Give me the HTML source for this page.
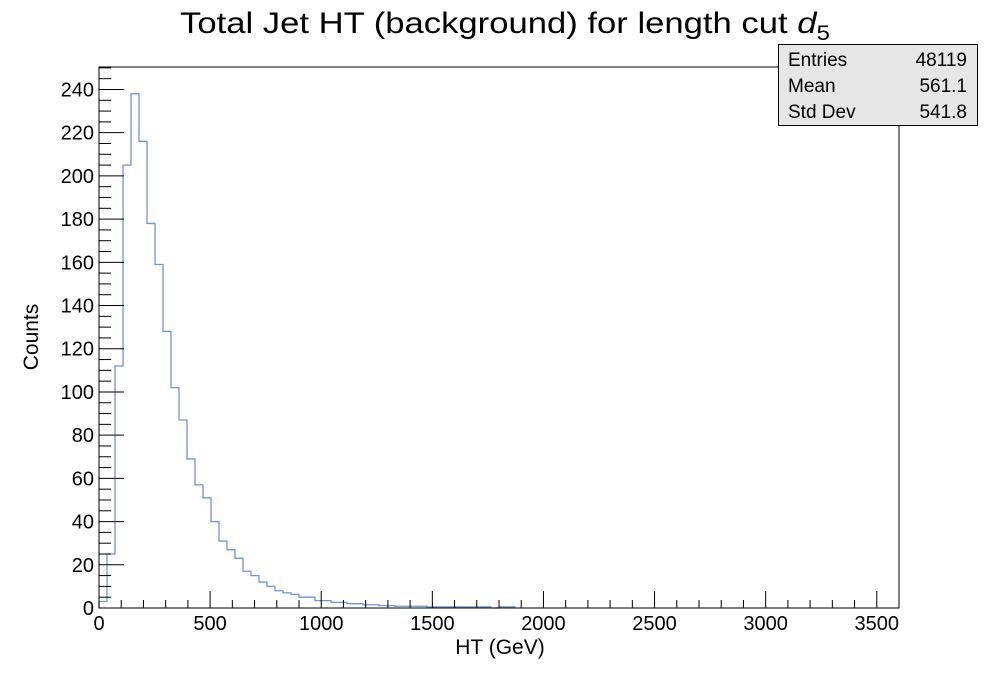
<!DOCTYPE html>
<html><head><meta charset="utf-8"><style>
html,body{margin:0;padding:0;background:#fff;}
svg{display:block;font-family:"Liberation Sans",Arial,sans-serif;}
</style></head><body>
<svg id="chart" width="998" height="676" viewBox="0 0 998 676" xmlns="http://www.w3.org/2000/svg">
<rect width="998" height="676" fill="#fff"/>
<text x="180" y="33" font-size="30" textLength="650" lengthAdjust="spacingAndGlyphs">Total Jet HT (background) for length cut <tspan font-style="italic">d</tspan><tspan font-size="21" dy="7">5</tspan></text>
<g id="plot"></g>
<rect x="99" y="67" width="800" height="541" fill="none" stroke="#000" stroke-width="1"/>
<text x="500" y="654" font-size="21" text-anchor="middle">HT (GeV)</text>
<text x="0" y="0" font-size="21" text-anchor="middle" transform="translate(38,337) rotate(-90)">Counts</text>
<g>
<rect x="778.5" y="44.5" width="199" height="81" fill="#e6e6e6" stroke="#000" stroke-width="1"/>
<text x="788" y="66" font-size="19">Entries</text>
<text x="967" y="66" font-size="19" text-anchor="end">48119</text>
<text x="788" y="92" font-size="19">Mean</text>
<text x="967" y="92" font-size="19" text-anchor="end">561.1</text>
<text x="788" y="118" font-size="19">Std Dev</text>
<text x="967" y="118" font-size="19" text-anchor="end">541.8</text>
</g>
</svg>
<script>
const binCounts = [3,25,112,205,238,216,178,159,128,102,87,69,57,51,40,31,27,23,17,15,12,10,8,7,6.3,5,5,3.4,3.4,2.6,2.6,2,2,1.5,1.5,1.1,1.1,0.8,0.8,0.8,0.8,0.5,0.5,0.5,0.5,0.5,0.5,0.5,0.5,0,0.5,0.5];
const xTickLabels = [0,500,1000,1500,2000,2500,3000,3500];
const yTickLabels = [0,20,40,60,80,100,120,140,160,180,200,220,240];
const binWidth = 36;
const xMin = 0, xMax = 3600, yMin = 0, yMax = 250.4;
const L = 99, R = 899, T = 67, B = 608;
function xs(v){return L + (v - xMin) / (xMax - xMin) * (R - L);}
function ys(v){return B - (v - yMin) / (yMax - yMin) * (B - T);}
const NS = "http://www.w3.org/2000/svg";
const plot = document.getElementById('plot');
function mk(tag, attrs){const e=document.createElementNS(NS,tag);for(const k in attrs)e.setAttribute(k,attrs[k]);return e;}
let d = "M" + xs(0) + "," + ys(0);
binCounts.forEach((c,i)=>{
  d += " L" + xs(i*binWidth) + "," + ys(c).toFixed(2) + " L" + xs((i+1)*binWidth) + "," + ys(c).toFixed(2);
});
d += " L" + xs(binCounts.length*binWidth) + "," + ys(0);
const path = mk('path',{d:d,fill:'none',stroke:'#7094d6','stroke-width':1.3});


plot.appendChild(path);
for(let v=0; v<=xMax; v+=100){
  const major = v % 500 === 0;
  const t = mk('line',{x1:xs(v),x2:xs(v),y1:B,y2:B-(major?17:8),stroke:'#000','stroke-width':1});
  
  
  plot.appendChild(t);
}
xTickLabels.forEach(v=>{
  const t = mk('text',{x:xs(v),y:630,'font-size':20,'text-anchor':'middle'});
  t.textContent = v;
  
  
  plot.appendChild(t);
});
for(let v=0; v<=yMax; v+=5){
  const major = v % 20 === 0;
  const t = mk('line',{x1:L,x2:L+(major?25:12),y1:ys(v),y2:ys(v),stroke:'#000','stroke-width':1});
  
  
  plot.appendChild(t);
}
yTickLabels.forEach(v=>{
  const t = mk('text',{x:94,y:ys(v)+7,'font-size':20,'text-anchor':'end'});
  t.textContent = v;
  
  
  plot.appendChild(t);
});
</script>
</body></html>
